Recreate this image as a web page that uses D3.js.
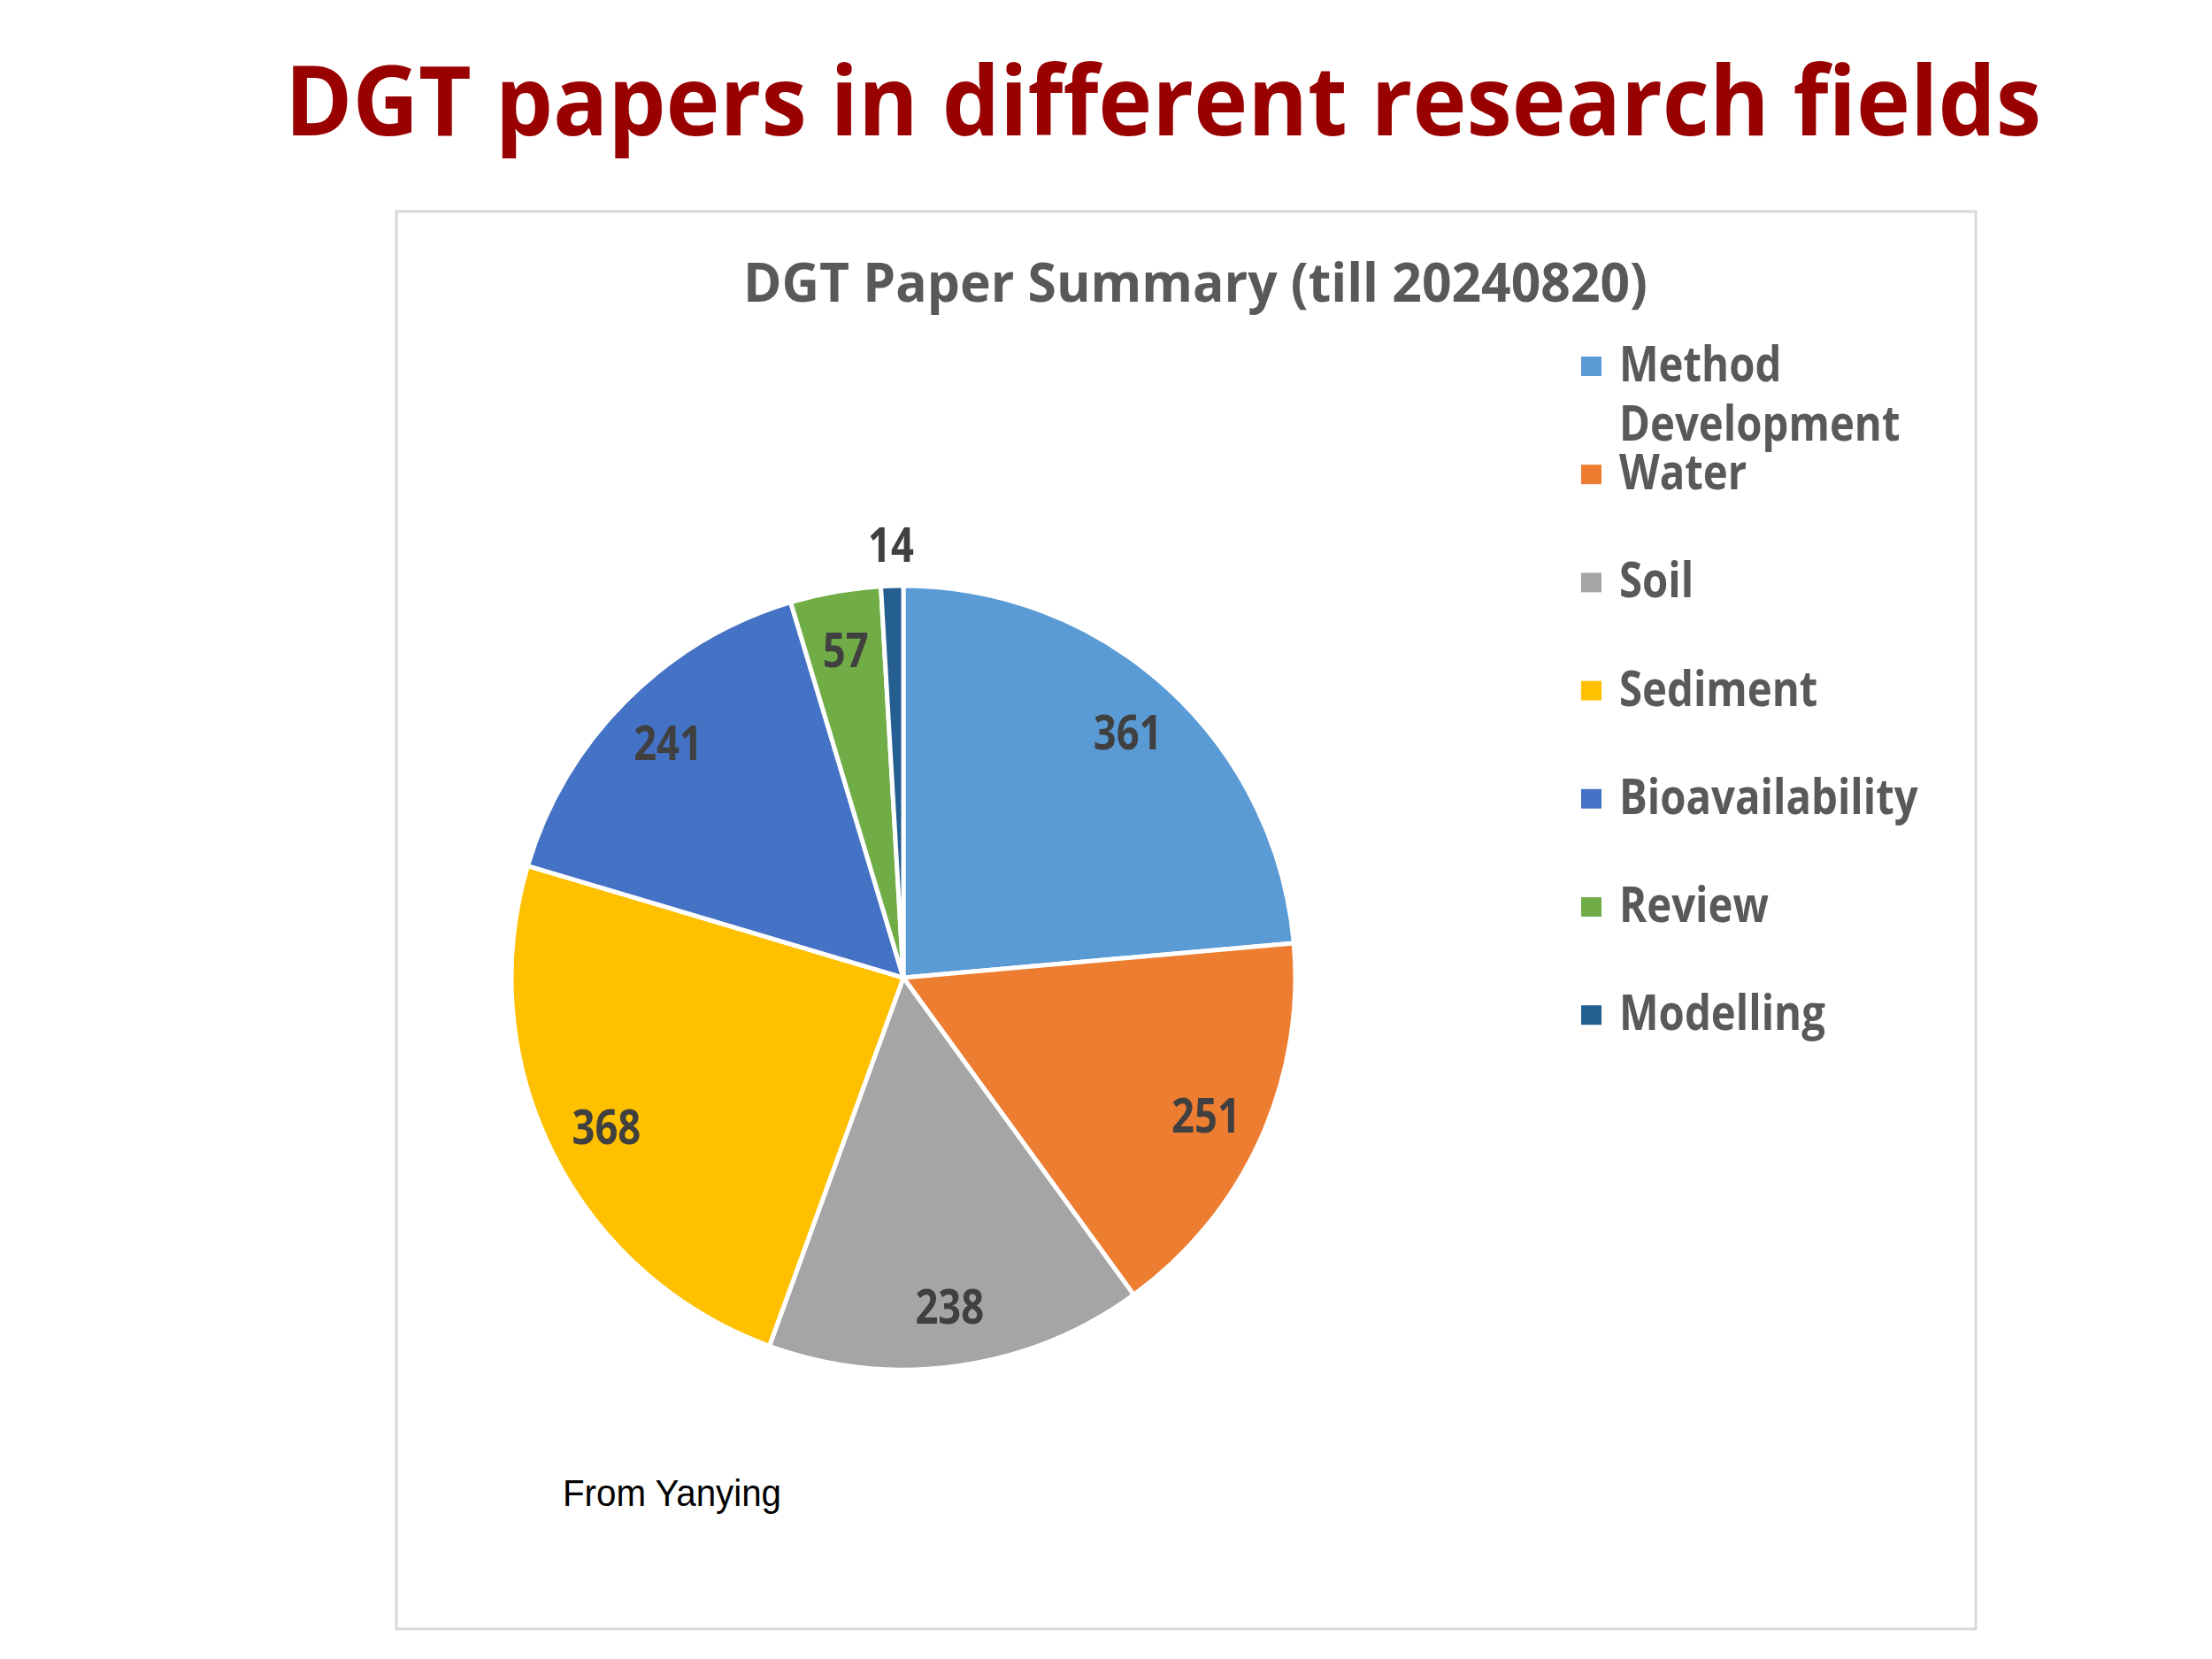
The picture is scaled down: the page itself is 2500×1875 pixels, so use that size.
<!DOCTYPE html>
<html>
<head>
<meta charset="utf-8">
<script src="https://cdn.jsdelivr.net/npm/d3@7"></script>
<style>
  body { margin: 0; background: #fff; }
  svg { display: block; }
</style>
</head>
<body>
<svg width="2500" height="1875"></svg>
<script>
// chart data
const categories = ["Method Development", "Water", "Soil", "Sediment", "Bioavailability", "Review", "Modelling"];
const papers = [361, 251, 238, 368, 241, 57, 14];
const colours = ["#5B9BD5", "#ED7D31", "#A5A5A5", "#FFC000", "#4472C4", "#70AD47", "#255E91"];
const pageTitle = "DGT papers in different research fields";
const chartTitle = "DGT Paper Summary (till 20240820)";
const note = "From Yanying";

// squeeze text horizontally, the slide font is narrower than ours
function squeeze(sel, k) {
  sel.each(function() {
    let len = this.getComputedTextLength();
    d3.select(this).attr("textLength", len * k).attr("lengthAdjust", "spacingAndGlyphs");
  });
}
function fitWidth(sel, w) {
  sel.attr("textLength", w).attr("lengthAdjust", "spacingAndGlyphs");
}

var drawChart = function()
{
  let svg = d3.select("svg");
  let font = "'Open Sans', 'Noto Sans', sans-serif";

  // big slide title
  svg.append("text")
    .attr("x", 322).attr("y", 153)
    .attr("font-family", font).attr("font-weight", 700)
    .attr("font-size", 110).attr("fill", "#990000")
    .text(pageTitle)
    .call(fitWidth, 1985);

  // chart frame
  let frame = {left: 448, top: 239, right: 2233, bottom: 1841};
  svg.append("rect")
    .attr("x", frame.left).attr("y", frame.top)
    .attr("width", frame.right - frame.left).attr("height", frame.bottom - frame.top)
    .attr("fill", "#fff").attr("stroke", "#d9d9d9").attr("stroke-width", 3);

  svg.append("text")
    .attr("x", 840).attr("y", 341)
    .attr("font-family", font).attr("font-weight", 700)
    .attr("font-size", 60).attr("fill", "#595959")
    .text(chartTitle)
    .call(fitWidth, 1022);

  // pie
  let cx = 1021, cy = 1105, radius = 443;
  let pie = d3.pie().sort(null).value(d => d.value);
  let data = categories.map((c, i) => ({name: c, value: papers[i], colour: colours[i]}));
  let arcs = pie(data);
  let arc = d3.arc().innerRadius(0).outerRadius(radius);
  let labelArc = d3.arc().innerRadius(radius * 0.848).outerRadius(radius * 0.848);
  let outerArc = d3.arc().innerRadius(radius * 1.106).outerRadius(radius * 1.106);

  let plot = svg.append("g").attr("id", "plot")
    .attr("transform", "translate(" + cx + "," + cy + ")");

  plot.selectAll("path.slice")
    .data(arcs)
    .join("path")
    .attr("class", "slice")
    .attr("d", arc)
    .attr("fill", d => d.data.colour)
    .attr("stroke", "#fff")
    .attr("stroke-width", 5)
    .attr("stroke-linejoin", "round");

  // tiny slices get their label outside the pie
  let isSmall = d => (d.endAngle - d.startAngle) < 0.1;
  plot.selectAll("text.value")
    .data(arcs)
    .join("text")
    .attr("class", "value")
    .attr("transform", d => "translate(" + (isSmall(d) ? outerArc : labelArc).centroid(d) + ")")
    .attr("dy", "0.36em")
    .attr("text-anchor", "middle")
    .attr("font-family", font).attr("font-weight", 700)
    .attr("font-size", 54).attr("fill", "#404040")
    .text(d => d.value)
    .call(squeeze, 0.84);

  // legend
  let y = d3.scalePoint().domain(categories).range([414, 414 + 6 * 122.2]);
  let legend = svg.append("g").attr("id", "legend");
  let items = legend.selectAll("g.item")
    .data(data)
    .join("g")
    .attr("class", "item")
    .attr("transform", d => "translate(1787," + y(d.name) + ")");
  items.append("rect")
    .attr("x", 0).attr("y", -11)
    .attr("width", 23).attr("height", 22)
    .attr("fill", d => d.colour);
  items.each(function(d) {
    let t = d3.select(this).append("text")
      .attr("x", 43).attr("y", 17)
      .attr("font-family", font).attr("font-weight", 700)
      .attr("font-size", 55).attr("fill", "#595959")
      .text(d.name);
    // wrap long names word by word like the legend box does
    if (t.node().getComputedTextLength() * 0.86 > 400) {
      let words = d.name.split(" ");
      t.text(null);
      words.forEach((w, i) => {
        t.append("tspan").attr("x", 43).attr("dy", i === 0 ? 0 : 67).text(w);
      });
      t.selectAll("tspan").call(squeeze, 0.86);
    } else {
      t.call(squeeze, 0.86);
    }
  });

  svg.append("text")
    .attr("x", 636).attr("y", 1702)
    .attr("font-family", "'Liberation Sans', Arial, sans-serif")
    .attr("font-size", 42).attr("fill", "#000")
    .text(note)
    .call(fitWidth, 247);
};

document.fonts.ready.then(drawChart);
</script>
</body>
</html>
